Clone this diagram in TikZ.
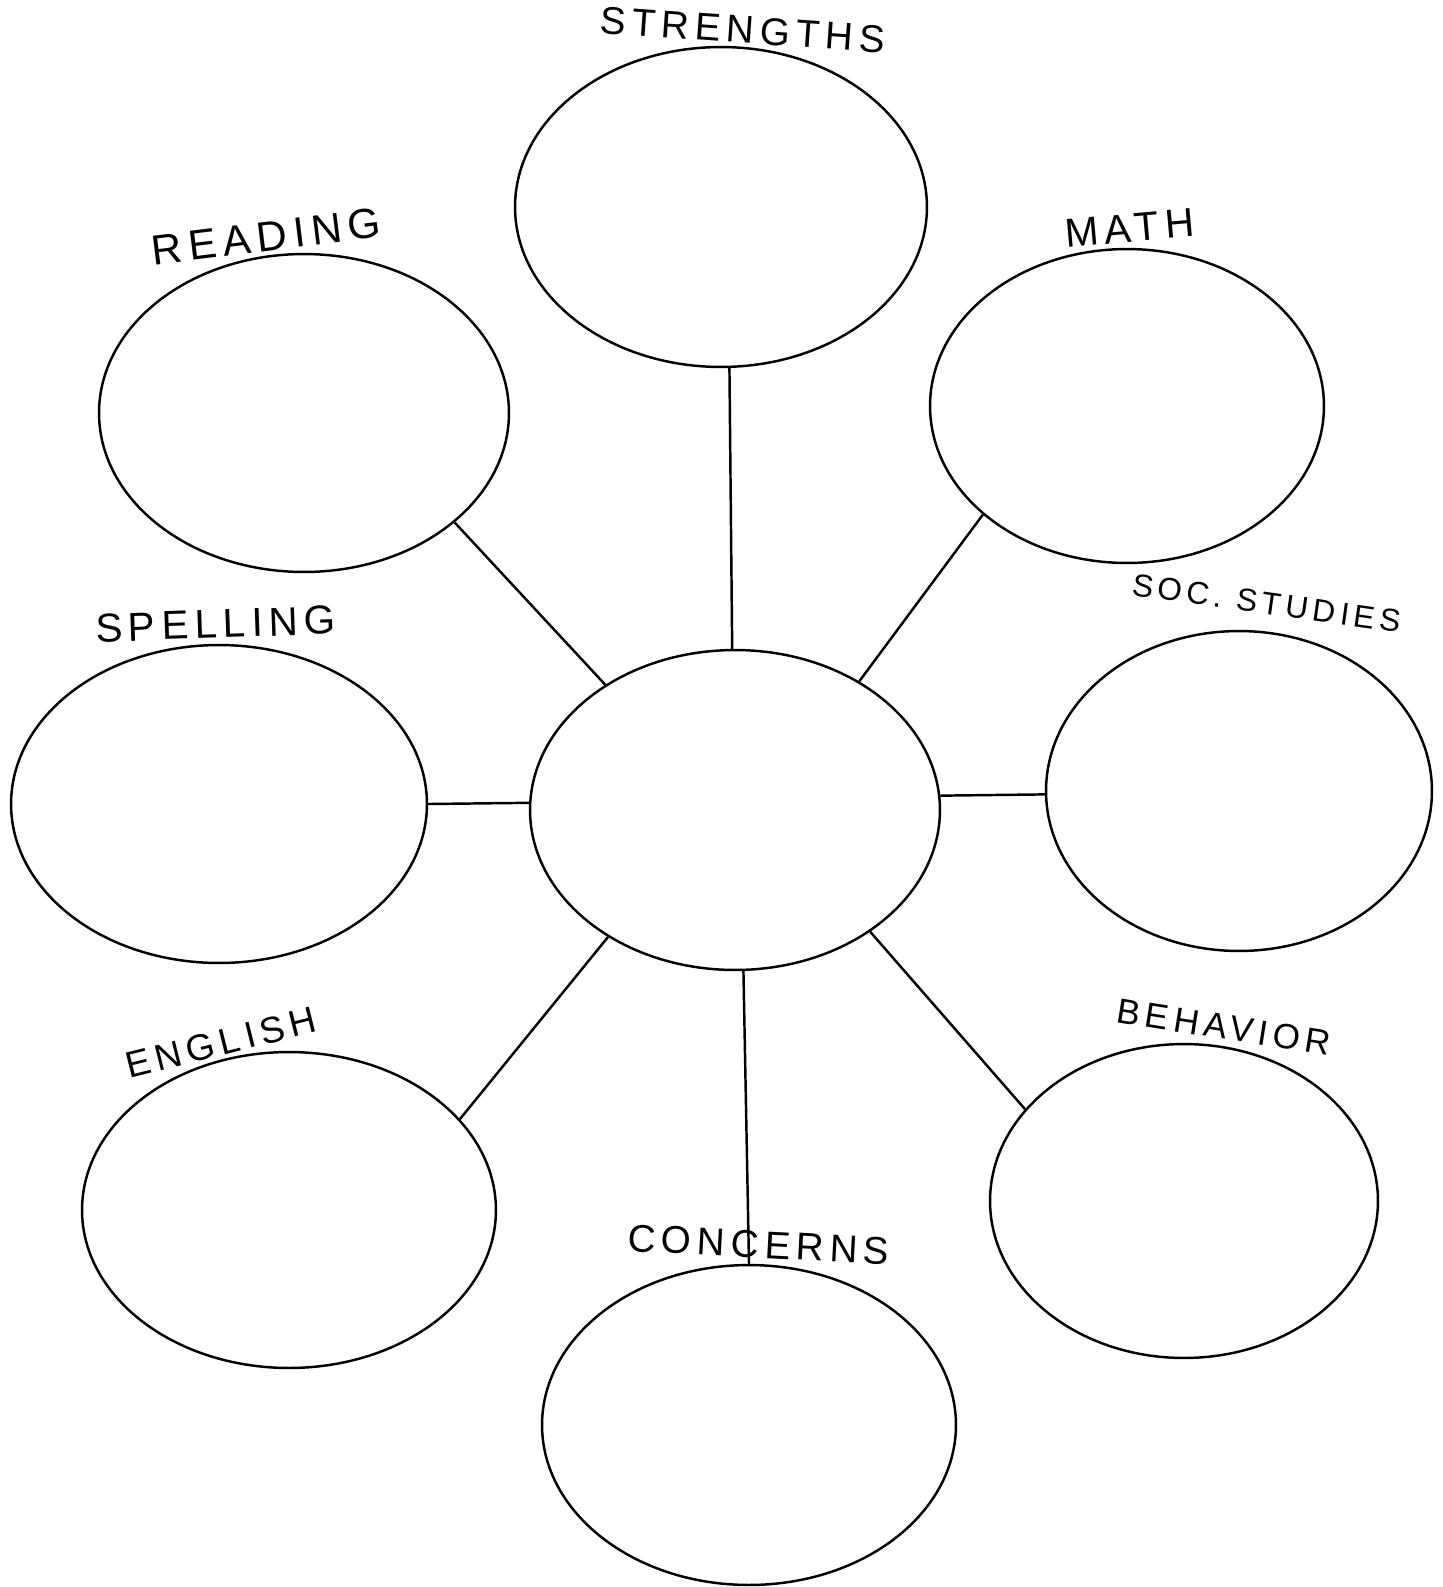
\documentclass[tikz,border=0pt]{standalone}
\usepackage{fontspec}
\setmainfont{Liberation Sans}
\newfontfamily\handfont[LetterSpace=15]{Liberation Sans}
\usetikzlibrary{shapes.geometric}

\begin{document}
\begin{tikzpicture}[x=0.02cm, y=-0.02cm,
      bub/.style={draw, ellipse, line width=1.4pt, inner sep=0pt},
      lbl/.style={font=\handfont\fontsize{#1}{#1}\selectfont, inner sep=0pt, anchor=base},
      lnk/.style={line width=1.4pt}
  ]
    \useasboundingbox (0,0) rectangle (1443,1587);
    \node[bub, minimum width=8.2cm, minimum height=6.4cm] (hub) at (735,810) {};
    \node[bub, minimum width=8.24cm, minimum height=6.4cm] (str) at (721,207) {};
    \node[bub, minimum width=8.2cm, minimum height=6.36cm] (rdg) at (304,413) {};
    \node[bub, minimum width=7.88cm, minimum height=6.28cm] (mth) at (1127,406) {};
    \node[bub, minimum width=8.32cm, minimum height=6.36cm] (spl) at (219,804) {};
    \node[bub, minimum width=7.72cm, minimum height=6.4cm] (soc) at (1239,791) {};
    \node[bub, minimum width=8.28cm, minimum height=6.32cm] (eng) at (289,1210) {};
    \node[bub, minimum width=7.76cm, minimum height=6.28cm] (beh) at (1184,1201) {};
    \node[bub, minimum width=8.28cm, minimum height=6.4cm] (con) at (749,1425) {};
    \node[lbl=22, rotate=-4] (strl) at (742,43) {STRENGTHS};
    \node[lbl=24, rotate=7] (rdgl) at (268,251) {READING};
    \node[lbl=23, rotate=5] (mthl) at (1131,242) {MATH};
    \node[lbl=23, rotate=2] (spll) at (216,638) {SPELLING};
    \node[lbl=18, rotate=-8] (socl) at (1265,614) {SOC. STUDIES};
    \node[lbl=21, rotate=14] (engl) at (224,1055) {ENGLISH};
    \node[lbl=20, rotate=-9] (behl) at (1222,1039) {BEHAVIOR};
    \node[lbl=22, rotate=-3] (conl) at (758,1258) {CONCERNS};
    \draw[lnk] (hub.91) -- (str.273);
    \draw[lnk] (hub.136) -- (rdg.324);
    \draw[lnk] (hub.46) -- (mth.217);
    \draw[lnk] (hub.178) -- (spl.east);
    \draw[lnk] (hub.4) -- (soc.181);
    \draw[lnk] (hub.225) -- (eng.28);
    \draw[lnk] (hub.318) -- (beh.150);
    \draw[lnk] (hub.273) -- (con.north);
  \end{tikzpicture}
\end{document}
